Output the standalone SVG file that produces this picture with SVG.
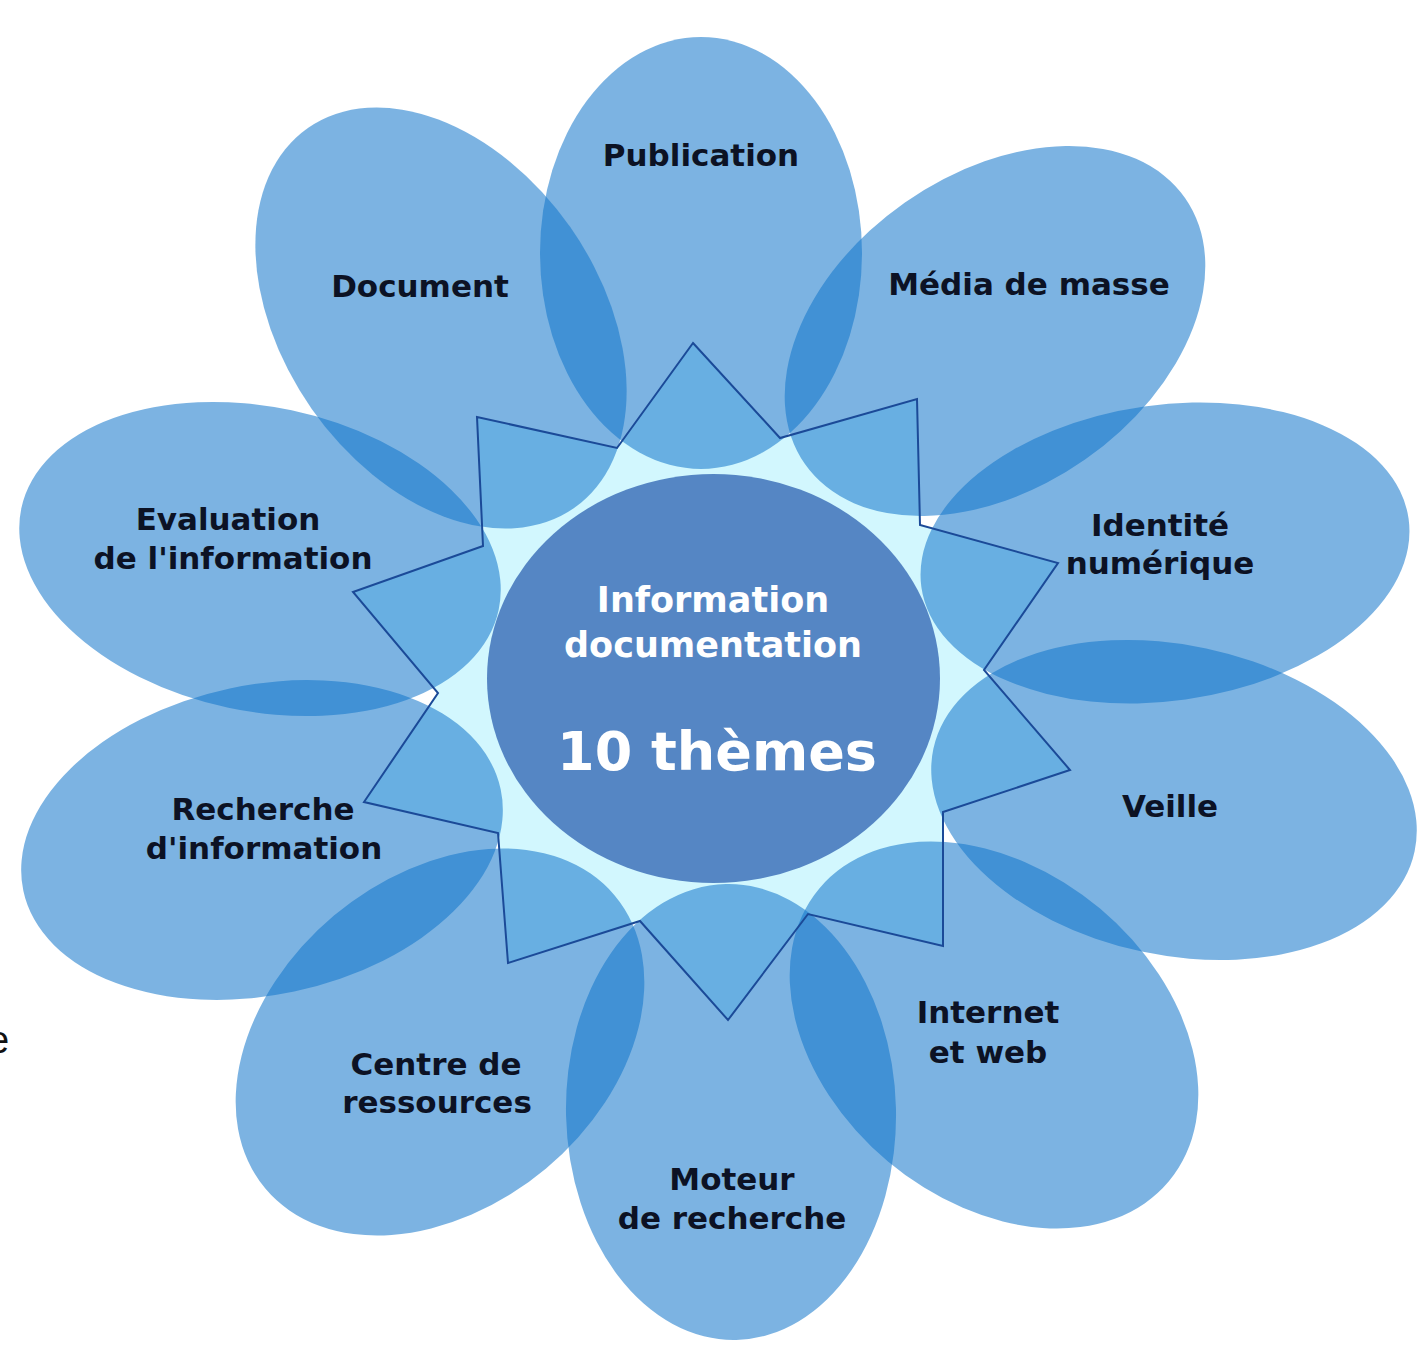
<svg xmlns="http://www.w3.org/2000/svg" xmlns:xlink="http://www.w3.org/1999/xlink" width="1422" height="1345" viewBox="0 0 1422 1345">
<style>
.petal{fill:#1075CB;fill-opacity:0.55}
.lbl{font-family:"DejaVu Sans",Verdana,sans-serif;font-weight:bold;font-size:31px;fill:#0c1224;text-anchor:middle}
.ctr{font-family:"DejaVu Sans",Verdana,sans-serif;font-weight:bold;fill:#ffffff;text-anchor:middle}
</style>
<defs>
<polygon id="starShape" points="693,343 780,438 917,399 920,525 1058,563 984,670 1070,770 943,812 943,946 808,914 728,1020 640,921 508,963 498,833 364,802 438,693 353,592 483,546 477,417 617,448"/>
</defs>
<rect x="0" y="0" width="1422" height="1345" fill="#ffffff"/>
<text x="-12" y="1053" style="font-family:'Liberation Sans',Arial,sans-serif;font-size:38px;fill:#111">e</text>
<g id="star-fill"><use xlink:href="#starShape" fill="#D2F7FE"/></g>
<g id="center">
<ellipse cx="713.5" cy="678.5" rx="226.5" ry="204.5" fill="#5586C4"/>
<text class="ctr" x="713" y="612" font-size="35">Information</text>
<text class="ctr" x="713" y="657" font-size="35">documentation</text>
<text class="ctr" x="717" y="770" font-size="54">10 thèmes</text>
</g>
<g id="publication">
<ellipse class="petal" cx="701" cy="253" rx="161" ry="216"/>
<text class="lbl" x="701" y="166">Publication</text>
</g>
<g id="media-de-masse">
<ellipse class="petal" cx="995" cy="331" rx="232" ry="157" transform="rotate(-35 995 331)"/>
<text class="lbl" x="1029" y="295">Média de masse</text>
</g>
<g id="identite-numerique">
<ellipse class="petal" cx="1165" cy="553" rx="246" ry="148" transform="rotate(-8 1165 553)"/>
<text class="lbl" x="1160" y="536">Identité</text>
<text class="lbl" x="1160" y="574">numérique</text>
</g>
<g id="veille">
<ellipse class="petal" cx="1174" cy="800" rx="246" ry="155" transform="rotate(12 1174 800)"/>
<text class="lbl" x="1170" y="817">Veille</text>
</g>
<g id="internet-et-web">
<ellipse class="petal" cx="994" cy="1035" rx="228" ry="165" transform="rotate(40 994 1035)"/>
<text class="lbl" x="988" y="1023">Internet</text>
<text class="lbl" x="988" y="1063">et web</text>
</g>
<g id="moteur-de-recherche">
<ellipse class="petal" cx="731" cy="1112" rx="165" ry="228" transform="rotate(-1.3 731 1112)"/>
<text class="lbl" x="732" y="1190">Moteur</text>
<text class="lbl" x="732" y="1229">de recherche</text>
</g>
<g id="centre-de-ressources">
<ellipse class="petal" cx="440" cy="1042" rx="228" ry="165" transform="rotate(-40 440 1042)"/>
<text class="lbl" x="436" y="1075">Centre de</text>
<text class="lbl" x="437" y="1113">ressources</text>
</g>
<g id="recherche-d-information">
<ellipse class="petal" cx="262" cy="840" rx="244" ry="155" transform="rotate(-12 262 840)"/>
<text class="lbl" x="263" y="820">Recherche</text>
<text class="lbl" x="264" y="859">d'information</text>
</g>
<g id="evaluation-de-l-information">
<ellipse class="petal" cx="260" cy="559" rx="244" ry="152" transform="rotate(12 260 559)"/>
<text class="lbl" x="228" y="530">Evaluation</text>
<text class="lbl" x="233" y="569">de l'information</text>
</g>
<g id="document">
<ellipse class="petal" cx="441" cy="318" rx="158" ry="232" transform="rotate(-35 441 318)"/>
<text class="lbl" x="420" y="297">Document</text>
</g>
<g id="star-outline"><use xlink:href="#starShape" fill="none" stroke="#1B4A98" stroke-width="2" stroke-linejoin="miter"/></g>
</svg>
